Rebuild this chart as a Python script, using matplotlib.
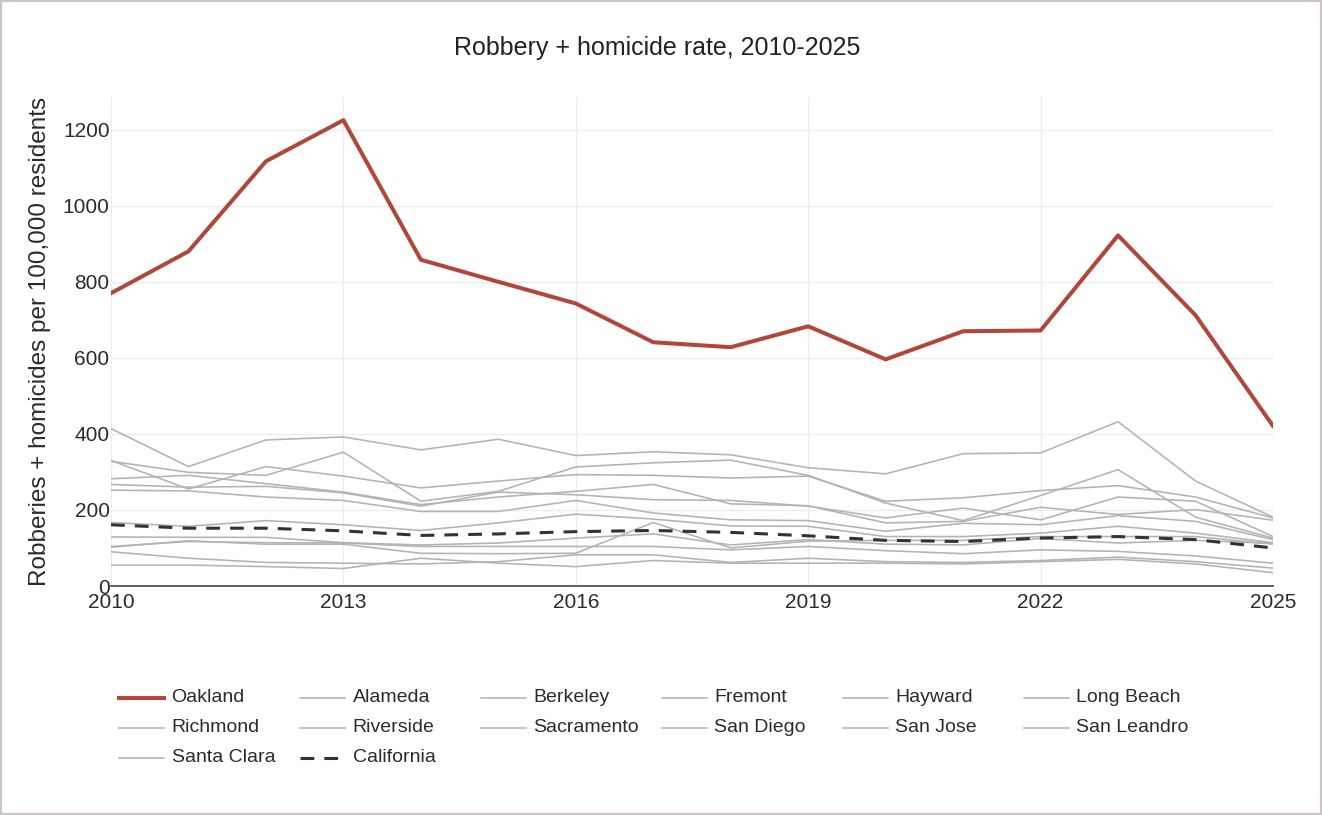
import matplotlib
matplotlib.use("Agg")
import matplotlib.pyplot as plt
from matplotlib.lines import Line2D
from matplotlib.patches import Rectangle

plt.rcParams['font.family'] = ['Liberation Sans', 'DejaVu Sans']

years = list(range(2010, 2026))

oakland = [770, 880, 1117, 1225, 858, 800, 743, 641, 628, 683, 596, 670, 672, 922, 712, 421]
california = [161, 152, 152, 145, 133, 137, 143, 146, 141, 132, 120, 117, 126, 130, 122, 100]

# other cities, all drawn in grey
alameda = [414, 314, 384, 392, 358, 386, 343, 353, 345, 311, 295, 348, 350, 432, 276, 181]
berkeley = [330, 255, 314, 289, 258, 276, 293, 291, 284, 289, 223, 232, 251, 264, 234, 179]
fremont = [328, 299, 291, 352, 223, 249, 313, 324, 331, 291, 218, 172, 238, 306, 181, 126]
hayward = [282, 291, 269, 247, 214, 234, 249, 267, 216, 211, 166, 170, 207, 188, 201, 173]
long_beach = [267, 260, 262, 245, 210, 247, 240, 227, 225, 210, 179, 205, 174, 234, 223, 130]
richmond = [252, 250, 234, 225, 196, 196, 225, 192, 174, 172, 144, 165, 161, 185, 170, 122]
riverside = [167, 157, 172, 161, 146, 166, 189, 176, 158, 157, 130, 130, 139, 157, 139, 114]
sacramento = [129, 128, 128, 114, 108, 113, 126, 137, 108, 122, 110, 108, 125, 113, 120, 112]
san_diego = [104, 117, 114, 113, 104, 104, 104, 104, 95, 104, 93, 85, 95, 91, 79, 60]
san_jose = [102, 119, 110, 110, 86, 85, 86, 167, 100, 118, 120, 120, 130, 130, 130, 110]
san_leandro = [90, 73, 62, 60, 58, 64, 82, 82, 62, 73, 64, 62, 67, 76, 64, 47]
santa_clara = [55, 55, 51, 46, 73, 60, 51, 67, 60, 60, 60, 58, 64, 70, 58, 35]

others = {
    "Alameda": alameda, "Berkeley": berkeley, "Fremont": fremont,
    "Hayward": hayward, "Long Beach": long_beach, "Richmond": richmond,
    "Riverside": riverside, "Sacramento": sacramento, "San Diego": san_diego,
    "San Jose": san_jose, "San Leandro": san_leandro, "Santa Clara": santa_clara,
}

OAK = "#b0473a"
GREY = "#b3b3b3"
CA = "#333333"
TXT = "#2b2b2b"

W, H = 1322, 815
fig = plt.figure(figsize=(W / 100, H / 100), dpi=100)
ax = fig.add_axes([111 / W, 1 - 586 / H, (1273 - 111) / W, (586 - 97) / H])

styles = {}
ax.plot(years, oakland, color=OAK, lw=2.9, solid_joinstyle='round', zorder=3)
styles["Oakland"] = dict(color=OAK, lw=2.9)
for name, vals in others.items():
    ax.plot(years, vals, color=GREY, lw=1.15, zorder=2)
    styles[name] = dict(color=GREY, lw=1.15)
ax.plot(years, california, color=CA, lw=2.2, dashes=(4.5, 3.3), zorder=4)
styles["California"] = dict(color=CA, lw=2.2, dashes=(4.5, 3.3))

ax.set_xlim(2010, 2025)
ax.set_ylim(0, 1286)
ax.set_xticks(range(2010, 2026, 3))
ax.set_yticks(range(0, 1201, 200))
ax.grid(True, color="#ececec", lw=1.0)
ax.set_axisbelow(True)
for s in ["top", "right", "left"]:
    ax.spines[s].set_visible(False)
ax.spines["bottom"].set_color("#444444")
ax.spines["bottom"].set_linewidth(1.2)
ax.tick_params(length=0, labelsize=15, labelcolor=TXT)
ax.tick_params(axis='y', pad=1)
ax.tick_params(axis='x', pad=5)

ax.set_ylabel("Robberies + homicides per 100,000 residents", fontsize=17.5, color=TXT)
ax.yaxis.set_label_coords(-0.0516, 0.5)

fig.text(0.497, 1 - 48 / H, "Robbery + homicide rate, 2010-2025",
         ha="center", va="center", fontsize=18, color="#222222")

# legend, 6 columns laid out row by row
order = ["Oakland"] + list(others.keys()) + ["California"]
for i, name in enumerate(order):
    row, col = divmod(i, 6)
    x0 = 118.5 + 181 * col
    y = 1 - (698 + 30 * row) / H
    fig.add_artist(Line2D([x0 / W, (x0 + 45) / W], [y, y], **styles[name]))
    fig.text((x0 + 53) / W, y, name, ha="left", va="center", fontsize=14, color=TXT)

fig.add_artist(Rectangle((0.001, 0.0015), 0.998, 0.997, transform=fig.transFigure,
                         fill=False, edgecolor="#cdc4c8", lw=1.6))

fig.savefig("out.png", dpi=100)
